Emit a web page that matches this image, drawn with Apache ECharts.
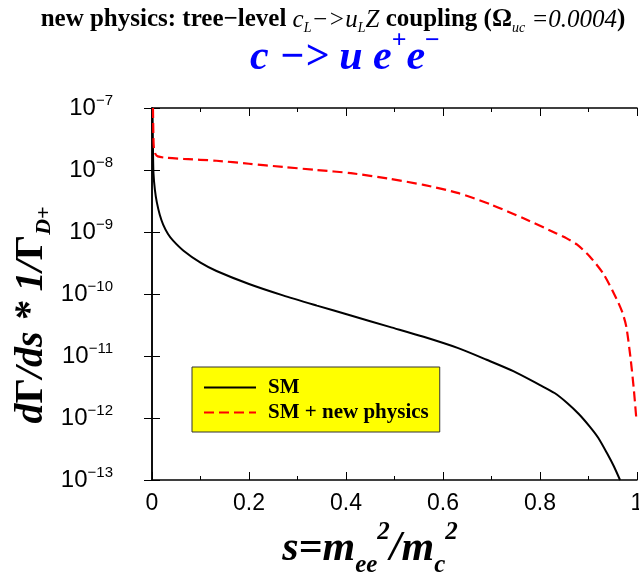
<!DOCTYPE html>
<html>
<head>
<meta charset="utf-8">
<script src="https://cdn.jsdelivr.net/npm/echarts@6/dist/echarts.min.js"></script>
<style>
  html, body { margin: 0; padding: 0; background: #fff; }
  #chart { width: 639px; height: 576px; }
</style>
</head>
<body>
<div id="chart"></div>
<script>
// s = m_ee^2 / m_c^2 and dGamma/ds * 1/Gamma_D+
const sSM = [0.001, 0.002, 0.003, 0.006, 0.01, 0.016, 0.023, 0.033, 0.044, 0.065,
  0.1, 0.133, 0.2, 0.27, 0.34, 0.41, 0.49, 0.56, 0.63, 0.69,
  0.745, 0.8, 0.83, 0.856, 0.88, 0.903, 0.92, 0.938, 0.952, 0.965];
const rateSM = [1.0e-7, 2.2e-8, 8.9e-9, 4.8e-9, 3.0e-9, 1.9e-9, 1.32e-9, 9.3e-10, 7.2e-10, 5.0e-10,
  3.2e-10, 2.35e-10, 1.45e-10, 9.5e-11, 6.5e-11, 4.5e-11, 2.95e-11, 2.04e-11, 1.35e-11, 8.7e-12,
  5.7e-12, 3.4e-12, 2.53e-12, 1.75e-12, 1.16e-12, 7.2e-13, 4.8e-13, 2.72e-13, 1.68e-13, 1.0e-13];

const sNP = [0.002, 0.003, 0.004, 0.007, 0.012, 0.027, 0.065, 0.133, 0.2, 0.27,
  0.34, 0.41, 0.49, 0.56, 0.63, 0.70, 0.766, 0.834, 0.855, 0.876, 0.903,
  0.931, 0.958, 0.97, 0.978, 0.9865, 0.993, 0.9985];
const rateNP = [1.0e-7, 3.16e-8, 2.24e-8, 1.82e-8, 1.66e-8, 1.58e-8, 1.51e-8, 1.41e-8, 1.26e-8, 1.12e-8,
  1.0e-8, 8.9e-9, 7.2e-9, 5.75e-9, 4.27e-9, 2.75e-9, 1.66e-9, 9.5e-10, 7.9e-10, 6.3e-10, 4.0e-10,
  2.1e-10, 8.3e-11, 5.0e-11, 2.95e-11, 9.5e-12, 3.16e-12, 1.0e-12];

const seriesNames = ['SM', 'SM + new physics'];
const xTickStep = 0.2;

const serif = 'Liberation Serif';
const sans = 'Liberation Sans';

const chart = echarts.init(document.getElementById('chart'));

function xAxisOpt(pos, showLabel) {
  return {
    type: 'value', position: pos, min: 0, max: 1, interval: xTickStep,
    axisLine: { show: true, onZero: false, lineStyle: { color: '#000', width: 1.5 } },
    axisTick: { show: true, inside: true, length: 8, lineStyle: { color: '#000' } },
    minorTick: { show: true, splitNumber: 2, length: 4, lineStyle: { color: '#000' } },
    splitLine: { show: false },
    axisLabel: { show: showLabel, color: '#000', fontFamily: sans, fontSize: 23, margin: 12 }
  };
}

function yAxisOpt(pos, showLabel) {
  return {
    type: 'log', logBase: 10, position: pos, min: 1e-13, max: 1e-7,
    axisLine: { show: true, lineStyle: { color: '#000', width: 1.5 } },
    axisTick: { show: true, inside: true, length: 8, lineStyle: { color: '#000' } },
    splitLine: { show: false },
    axisLabel: {
      show: showLabel, margin: 39,
      formatter: function (v) {
        const e = Math.round(Math.log10(v));
        return '{b|10}{s|\u2212' + (-e) + '}';
      },
      rich: {
        b: { fontFamily: sans, fontSize: 24, color: '#000', lineHeight: 30 },
        s: { fontFamily: sans, fontSize: 15, color: '#000', verticalAlign: 'top', lineHeight: 16 }
      }
    }
  };
}

chart.setOption({
  animation: false,
  backgroundColor: '#fff',
  grid: { left: 152, right: 2, top: 108, bottom: 96, containLabel: false, outerBoundsMode: 'none' },
  xAxis: [xAxisOpt('bottom', true), xAxisOpt('top', false)],
  yAxis: [yAxisOpt('left', true), yAxisOpt('right', false)],
  legend: {
    orient: 'vertical', left: 192, top: 367,
    backgroundColor: '#ffff00', borderColor: '#333', borderWidth: 1,
    padding: [10, 11, 9, 11], itemGap: 4, itemWidth: 52, itemHeight: 18,
    itemStyle: { opacity: 0 },
    textStyle: { fontFamily: serif, fontWeight: 'bold', fontSize: 21, lineHeight: 21, color: '#000', padding: [0, 0, 0, 7] },
    data: seriesNames
  },
  series: [
    {
      name: seriesNames[0], type: 'line', symbol: 'none', smooth: 0.25,
      lineStyle: { color: '#000', width: 2 }, itemStyle: { color: '#000' },
      data: sSM.map((s, i) => [s, rateSM[i]])
    },
    {
      name: seriesNames[1], type: 'line', symbol: 'none', smooth: 0.25,
      lineStyle: { color: '#ff0000', width: 2.2, type: [10, 5] }, itemStyle: { color: '#ff0000' },
      data: sNP.map((s, i) => [s, rateNP[i]])
    }
  ],
  graphic: [
    {
      type: 'text', x: 333, y: 20,
      style: {
        align: 'center', verticalAlign: 'middle',
        text: '{b|new physics: tree\u2212level }{i|c}{sub|L}{i|\u2212>u}{sub|L}{i|Z}{b| coupling (\u03a9}{sub|uc}{i| =0.0004}{b|)}',
        rich: {
          b: { fontFamily: serif, fontWeight: 'bold', fontSize: 25, fill: '#000', lineHeight: 30 },
          i: { fontFamily: serif, fontStyle: 'italic', fontSize: 25, fill: '#000', lineHeight: 30 },
          sub: { fontFamily: serif, fontStyle: 'italic', fontSize: 14, fill: '#000', verticalAlign: 'bottom', lineHeight: 14 }
        }
      }
    },
    {
      type: 'text', x: 345, y: 58,
      style: {
        align: 'center', verticalAlign: 'middle',
        text: '{m|c \u2212> u e}{sp|+}{m|e}{sp|\u2212}',
        rich: {
          m: { fontFamily: serif, fontWeight: 'bold', fontStyle: 'italic', fontSize: 42, fill: '#0000ff', lineHeight: 60 },
          sp: { fontFamily: serif, fontWeight: 'bold', fontSize: 26, fill: '#0000ff', verticalAlign: 'top', lineHeight: 18 }
        }
      }
    },
    {
      type: 'text', x: 32, y: 315, rotation: Math.PI / 2,
      style: {
        align: 'center', verticalAlign: 'middle',
        text: '{m|d}{g|\u0393}{m|/ds * 1/}{g|\u0393}{sub|D+}',
        rich: {
          m: { fontFamily: serif, fontWeight: 'bold', fontStyle: 'italic', fontSize: 40, fill: '#000', lineHeight: 46 },
          g: { fontFamily: serif, fontWeight: 'bold', fontSize: 40, fill: '#000', lineHeight: 46 },
          sub: { fontFamily: serif, fontWeight: 'bold', fontStyle: 'italic', fontSize: 22, fill: '#000', verticalAlign: 'bottom', lineHeight: 20 }
        }
      }
    },
    {
      type: 'text', x: 370, y: 549,
      style: {
        align: 'center', verticalAlign: 'middle',
        text: '{m|s=m}{sub|ee}{sup|2}{m|/m}{sub|c}{sup|2}',
        rich: {
          m: { fontFamily: serif, fontWeight: 'bold', fontStyle: 'italic', fontSize: 42, fill: '#000', lineHeight: 58 },
          sub: { fontFamily: serif, fontWeight: 'bold', fontStyle: 'italic', fontSize: 25, fill: '#000', verticalAlign: 'bottom', lineHeight: 24 },
          sup: { fontFamily: serif, fontWeight: 'bold', fontStyle: 'italic', fontSize: 25, fill: '#000', verticalAlign: 'top', lineHeight: 20 }
        }
      }
    }
  ]
});
</script>
</body>
</html>
